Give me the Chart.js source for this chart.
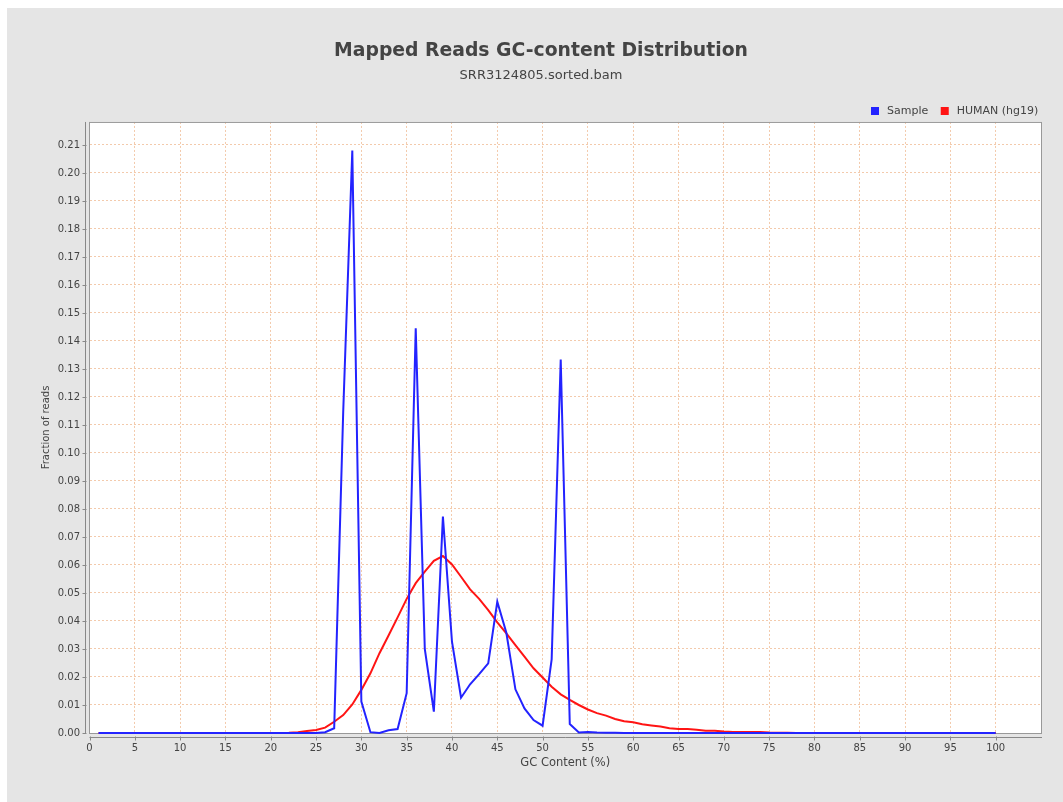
<!DOCTYPE html>
<html>
<head>
<meta charset="utf-8">
<title>Mapped Reads GC-content Distribution</title>
<script src="https://cdn.jsdelivr.net/npm/chart.js@4.4.1/dist/chart.umd.min.js"></script>
<style>
  html, body { margin: 0; padding: 0; background: #fff; }
  canvas { display: block; }
</style>
</head>
<body>
<canvas id="gc-chart" width="1063" height="802"></canvas>
<script>
// Values
const gcContent = [
  1, 2, 3, 4, 5, 6, 7, 8, 9, 10, 11, 12, 13, 14, 15, 16, 17, 18, 19, 20,
  21, 22, 23, 24, 25, 26, 27, 28, 29, 30, 31, 32, 33, 34, 35, 36, 37, 38, 39, 40,
  41, 42, 43, 44, 45, 46, 47, 48, 49, 50, 51, 52, 53, 54, 55, 56, 57, 58, 59, 60,
  61, 62, 63, 64, 65, 66, 67, 68, 69, 70, 71, 72, 73, 74, 75, 76, 77, 78, 79, 80,
  81, 82, 83, 84, 85, 86, 87, 88, 89, 90, 91, 92, 93, 94, 95, 96, 97, 98, 99, 100
];

const sampleFraction = [
  0, 0, 0, 0, 0, 0, 0, 0, 0, 0, 0, 0, 0, 0, 0, 0, 0, 0, 0, 0,
  0, 0, 0, 0, 0, 0.0003, 0.0017, 0.115, 0.208, 0.0112,
  0.0003, 0, 0.0010, 0.0014, 0.0142, 0.1445, 0.0300, 0.0076, 0.0773, 0.0326,
  0.0126, 0.0174, 0.0210, 0.0249, 0.0469, 0.0358, 0.0156, 0.0088, 0.0046, 0.0026,
  0.0263, 0.1334, 0.0032, 0.0002, 0.0004, 0.0002, 0.0001, 0.0001, 0, 0,
  0, 0, 0, 0, 0, 0, 0, 0, 0, 0, 0, 0, 0, 0, 0, 0, 0, 0, 0, 0,
  0, 0, 0, 0, 0, 0, 0, 0, 0, 0, 0, 0, 0, 0, 0, 0, 0, 0, 0, 0
];

const humanFraction = [
  0, 0, 0, 0, 0, 0, 0, 0, 0, 0, 0, 0, 0, 0, 0, 0, 0, 0, 0, 0,
  0, 0.0001, 0.0003, 0.0007, 0.0011, 0.0019, 0.0040, 0.0064, 0.0102, 0.0154,
  0.0213, 0.0285, 0.0348, 0.0413, 0.0479, 0.0535, 0.0576, 0.0615, 0.0632, 0.0602,
  0.0558, 0.0513, 0.0479, 0.0439, 0.0395, 0.0356, 0.0314, 0.0273, 0.0231, 0.0198,
  0.0165, 0.0138, 0.0118, 0.0100, 0.0084, 0.0071, 0.0062, 0.0050, 0.0042, 0.0038,
  0.0031, 0.0027, 0.0023, 0.0017, 0.0014, 0.0014, 0.0012, 0.0008, 0.0008, 0.0005,
  0.0004, 0.0004, 0.0004, 0.0004, 0.0002, 0.0001, 0.0001, 0, 0, 0,
  0, 0, 0, 0, 0, 0, 0, 0, 0, 0, 0, 0, 0, 0, 0, 0, 0, 0, 0, 0
];

const xTickValues = [0, 5, 10, 15, 20, 25, 30, 35, 40, 45, 50, 55, 60, 65, 70, 75, 80, 85, 90, 95, 100];
const yTickValues = [0, 0.01, 0.02, 0.03, 0.04, 0.05, 0.06, 0.07, 0.08, 0.09, 0.10,
  0.11, 0.12, 0.13, 0.14, 0.15, 0.16, 0.17, 0.18, 0.19, 0.20, 0.21];

const TEXT = '#444444';
const GRID = 'rgba(232, 150, 90, 0.5)';
const AXIS = '#888888';
const BLUE = 'rgb(35, 35, 255)';
const RED = 'rgb(255, 20, 20)';

Chart.defaults.font.family = '"DejaVu Sans", sans-serif';

// backgrounds, plot outline and the offset JFreeChart-style axis lines
const framePlugin = {
  id: 'frame',
  beforeDraw(chart) {
    const { ctx, width, height, chartArea: a } = chart;
    ctx.save();
    ctx.fillStyle = '#ffffff';
    ctx.fillRect(0, 0, width, height);
    ctx.fillStyle = '#e5e5e5';
    ctx.fillRect(7, 8, width - 7, height - 8);
    ctx.fillStyle = '#ffffff';
    ctx.fillRect(a.left, a.top, a.right - a.left, a.bottom - a.top);
    ctx.restore();
  },
  beforeDatasetsDraw(chart) {
    const { ctx, chartArea: a, scales } = chart;
    ctx.save();
    ctx.lineWidth = 1;
    ctx.strokeStyle = '#999999';
    ctx.strokeRect(a.left, a.top + 0.5, a.right + 0.5 - a.left, a.bottom - a.top);

    ctx.strokeStyle = AXIS;
    ctx.beginPath();
    // y axis, 4px left of the plot
    const ax = Math.round(a.left) - 4.5;
    ctx.moveTo(ax, a.top);
    ctx.lineTo(ax, a.bottom + 1);
    scales.y.ticks.forEach(t => {
      const py = Math.round(scales.y.getPixelForValue(t.value)) + 0.5;
      ctx.moveTo(ax - 3, py);
      ctx.lineTo(ax + 1, py);
    });
    // x axis, 4px below the plot
    const ay = Math.round(a.bottom) + 4.5;
    ctx.moveTo(a.left, ay);
    ctx.lineTo(a.right + 1, ay);
    scales.x.ticks.forEach(t => {
      const px = Math.round(scales.x.getPixelForValue(t.value)) + 0.5;
      ctx.moveTo(px, ay - 1);
      ctx.lineTo(px, ay + 3);
    });
    ctx.stroke();
    ctx.restore();
  },
  afterDraw(chart) {
    // legend in the top right corner above the plot
    const { ctx, chartArea: a } = chart;
    ctx.save();
    ctx.font = '11px "DejaVu Sans"';
    ctx.textBaseline = 'middle';
    let lx = a.right - 170;
    chart.data.datasets.forEach(ds => {
      ctx.fillStyle = ds.borderColor;
      ctx.fillRect(lx, 107, 8, 8);
      ctx.fillStyle = TEXT;
      ctx.fillText(ds.label, lx + 16, 111);
      lx += 16 + ctx.measureText(ds.label).width + 12.5;
    });
    ctx.restore();
  }
};

const ctx = document.getElementById('gc-chart').getContext('2d');
const chart = new Chart(ctx, {
  type: 'line',
  data: {
    datasets: [
      {
        label: 'Sample',
        data: gcContent.map((g, i) => ({ x: g, y: sampleFraction[i] })),
        borderColor: BLUE,
        backgroundColor: BLUE,
        borderWidth: 2,
        pointRadius: 0,
        tension: 0,
        clip: false
      },
      {
        label: 'HUMAN (hg19)',
        data: gcContent.map((g, i) => ({ x: g, y: humanFraction[i] })),
        borderColor: RED,
        backgroundColor: RED,
        borderWidth: 2,
        pointRadius: 0,
        tension: 0,
        clip: false
      }
    ]
  },
  options: {
    responsive: false,
    animation: false,
    events: [],
    layout: { padding: { top: 30, left: 41, right: 22, bottom: 0 } },
    plugins: {
      title: {
        display: true,
        text: 'Mapped Reads GC-content Distribution',
        color: TEXT,
        font: { size: 18.8, weight: 'bold' },
        padding: { top: 9.9, bottom: 0 }
      },
      subtitle: {
        display: true,
        text: 'SRR3124805.sorted.bam',
        color: TEXT,
        font: { size: 13 },
        padding: { top: 5.7, bottom: 38.2 }
      },
      legend: { display: false },
      tooltip: { enabled: false }
    },
    scales: {
      x: {
        type: 'linear',
        min: 0,
        max: 105,
        afterBuildTicks: s => { s.ticks = xTickValues.map(v => ({ value: v })); },
        afterFit: s => { s.height = 69; },
        grid: { color: GRID, drawTicks: false },
        border: { display: false, dash: [2, 2] },
        ticks: { color: TEXT, font: { size: 10 }, padding: 9, maxRotation: 0, autoSkip: false },
        title: {
          display: true,
          text: 'GC Content (%)',
          color: TEXT,
          font: { size: 11.5 },
          padding: { top: 0, bottom: 31.6 }
        }
      },
      y: {
        min: 0,
        max: 0.2182,
        afterBuildTicks: s => { s.ticks = yTickValues.map(v => ({ value: v })); },
        afterFit: s => { s.width = 48.5; },
        grid: { color: GRID, drawTicks: false },
        border: { display: false, dash: [2, 2] },
        ticks: { color: TEXT, font: { size: 10 }, padding: 9.5, callback: v => v.toFixed(2) },
        title: {
          display: true,
          text: 'Fraction of reads',
          color: TEXT,
          font: { size: 10 },
          padding: { top: -1, bottom: 0 }
        }
      }
    }
  },
  plugins: [framePlugin]
});
</script>
</body>
</html>
